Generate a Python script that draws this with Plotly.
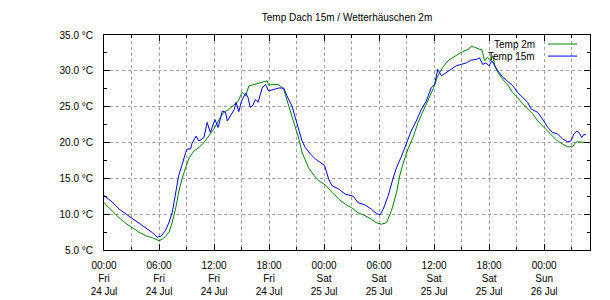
import pandas as pd
import plotly.graph_objects as go

# ---- data (hours since Fri 24 Jul 00:00) ----
start = "2015-07-24 00:00"

hours_15m = [0, 0.9, 1.65, 2.4, 3.1, 3.8, 4.55, 5.3, 5.8, 6.2, 6.7, 7.1, 7.45, 7.8, 8.15, 8.5, 8.9, 9.1, 9.45, 9.6,
             10.05, 10.35, 10.9, 11.25, 11.6, 12.1, 12.45, 12.9, 13.25, 13.45, 13.8, 14.2, 14.4, 14.7, 15.0, 15.45,
             15.7, 15.95, 16.2, 16.5, 16.8, 17.25, 17.6, 17.95, 18.5, 19.05, 19.6, 19.95, 20.5, 21.0, 21.6, 21.95,
             22.5, 23.05, 23.6, 24.05, 24.5, 24.85, 25.6, 26.3, 27.2, 27.7, 28.45, 29.15, 29.7, 30.1, 30.45, 31.0,
             31.5, 31.9, 32.45, 33.0, 33.5, 34.05, 34.6, 35.15, 35.7, 36.05, 36.4, 36.8, 37.35, 37.85, 38.4, 38.95,
             39.5, 40.05, 40.6, 40.95, 41.3, 41.65, 42.0, 42.3, 42.6, 42.95, 43.5, 44.0, 44.6, 45.1, 45.65, 46.2,
             46.55, 47.3, 47.8, 48.4, 48.9, 49.45, 50.0, 50.55, 50.9, 51.25, 51.55, 51.8, 52.1, 52.3, 52.55]
temp_15m = [12.6, 11.7, 10.7, 10.0, 9.4, 8.8, 8.0, 7.4, 6.8, 6.9, 7.7, 8.9, 10.3, 12.6, 15.4, 16.8, 18.6, 19.1, 19.1, 19.9,
            20.9, 20.2, 20.7, 22.8, 21.4, 23.2, 22.1, 24.4, 24.2, 23.0, 23.7, 24.6, 25.6, 24.3, 25.8, 26.9,
            26.3, 24.9, 25.1, 26.0, 25.6, 27.6, 28.1, 27.2, 27.4, 27.6, 27.6, 26.5, 25.1, 23.0, 20.2, 19.3,
            18.4, 17.7, 17.2, 16.8, 14.9, 14.0, 13.5, 12.8, 12.5, 11.6, 11.3, 10.7, 10.1, 9.9, 10.7, 12.6,
            14.9, 16.5, 18.1, 20.0, 21.6, 23.0, 24.6, 25.8, 27.7, 28.1, 30.2, 29.3, 29.8, 30.2, 30.7, 30.9,
            31.1, 31.5, 31.6, 31.8, 30.9, 31.1, 30.7, 31.4, 30.7, 30.0, 29.1, 28.6, 27.9, 27.0, 26.3, 25.6,
            24.7, 24.2, 23.3, 22.1, 21.4, 21.2, 20.5, 20.1, 20.2, 21.2, 21.6, 21.4, 20.7, 21.1, 21.1]

hours_2m = [0, 0.9, 1.65, 2.4, 3.1, 3.8, 4.55, 5.3, 6.0, 6.35, 6.7, 7.1, 7.45, 7.8, 8.15, 8.5, 8.9, 9.3, 9.8, 10.35,
            10.9, 11.45, 12.0, 12.55, 13.05, 13.6, 14.15, 14.65, 15.05, 15.45, 15.8, 16.5, 17.25, 17.8, 17.95, 18.3,
            19.05, 19.6, 19.95, 20.3, 20.85, 21.25, 21.6, 21.95, 22.3, 22.9, 23.4, 24.2, 24.85, 25.6, 26.3, 27.0,
            27.7, 28.45, 29.15, 29.7, 30.25, 30.8, 31.35, 31.9, 32.25, 32.6, 33.15, 33.7, 34.25, 34.8, 35.35, 35.9,
            36.4, 36.95, 37.5, 38.05, 38.6, 39.15, 39.7, 40.05, 40.4, 40.95, 41.2, 41.5, 41.85, 42.15, 42.4, 42.65,
            42.95, 43.5, 44.05, 44.55, 45.1, 45.65, 46.2, 46.75, 47.3, 47.85, 48.4, 48.9, 49.45, 50.0, 50.55, 51.1,
            51.35, 51.6, 52.2, 52.55]
temp_2m = [11.6, 10.4, 9.5, 8.7, 8.1, 7.5, 7.0, 6.7, 6.3, 6.5, 6.9, 7.5, 8.9, 10.7, 13.1, 14.9, 16.5, 17.9, 18.8, 19.3,
           20.0, 20.9, 21.9, 23.2, 24.2, 24.6, 25.3, 25.8, 27.0, 26.5, 27.9, 28.1, 28.4, 28.6, 28.0, 28.1,
           28.1, 27.4, 26.0, 24.6, 22.3, 20.5, 18.6, 17.5, 16.5, 15.4, 14.7, 14.0, 13.1, 12.1, 11.4, 10.9,
           10.2, 9.8, 9.3, 8.8, 8.6, 8.8, 10.5, 13.0, 15.4, 17.0, 19.1, 20.7, 22.8, 24.4, 26.1, 27.5,
           29.3, 30.5, 31.4, 31.9, 32.3, 32.7, 33.0, 33.4, 33.3, 33.0, 33.0, 31.4, 31.9, 31.4, 32.1, 30.5,
           29.8, 28.8, 28.0, 27.0, 26.3, 25.4, 24.7, 24.0, 23.0, 22.3, 21.6, 20.9, 20.2, 19.8, 19.4, 19.4,
           19.9, 20.1, 20.1, 20.0]

x_tick_hours = [0, 6, 12, 18, 24, 30, 36, 42, 48]
x_tick_labels = ["00:00<br>Fri<br>24 Jul", "06:00<br>Fri<br>24 Jul", "12:00<br>Fri<br>24 Jul",
                 "18:00<br>Fri<br>24 Jul", "00:00<br>Sat<br>25 Jul", "06:00<br>Sat<br>25 Jul",
                 "12:00<br>Sat<br>25 Jul", "18:00<br>Sat<br>25 Jul", "00:00<br>Sun<br>26 Jul"]
y_tick_values = [5, 10, 15, 20, 25, 30, 35]
y_tick_labels = ["5.0 °C", "10.0 °C", "15.0 °C", "20.0 °C", "25.0 °C", "30.0 °C", "35.0 °C"]
x_range_hours = [0, 53.0]

series_names = ["Temp 2m", "Temp 15m"]
series_colors = ["#008000", "#0000ff"]

t0 = pd.Timestamp(start)
to_time = lambda hs: [t0 + pd.Timedelta(hours=h) for h in hs]

FONT = "Liberation Sans, Arial, sans-serif"
GRID = "#a0a0a0"

fig = go.Figure()
fig.add_trace(go.Scatter(x=to_time(hours_2m), y=temp_2m, mode="lines", name=series_names[0],
                         line=dict(color=series_colors[0], width=1), showlegend=False))
fig.add_trace(go.Scatter(x=to_time(hours_15m), y=temp_15m, mode="lines", name=series_names[1],
                         line=dict(color=series_colors[1], width=1), showlegend=False))

# gnuplot-style key: right-aligned text followed by a line sample
key_rows = [0.958, 0.902]
for name, color, yy in zip(series_names, series_colors, key_rows):
    fig.add_annotation(x=0.891, y=yy, xref="paper", yref="paper", text=name, showarrow=False,
                       xanchor="right", yanchor="middle", font=dict(family=FONT, size=10, color="black"))
    fig.add_shape(type="line", xref="paper", yref="paper", x0=0.9136, x1=0.9733, y0=yy, y1=yy,
                  line=dict(color=color, width=1), layer="above")

fig.update_layout(
    width=610, height=300,
    margin=dict(l=104, r=20, t=35, b=50),
    paper_bgcolor="white", plot_bgcolor="white",
    font=dict(family=FONT, size=10, color="black"),
    title=dict(text="Temp Dach 15m / Wetterhäuschen 2m", x=(104 + 243) / 610, xanchor="center",
               y=1 - 17 / 300, yanchor="middle", font=dict(family=FONT, size=10, color="black")),
)

fig.update_xaxes(
    type="date", range=to_time(x_range_hours), automargin=False,
    tickmode="array", tickvals=to_time(x_tick_hours), ticktext=x_tick_labels,
    ticks="inside", ticklen=6, tickcolor="black", tickwidth=1,
    showline=True, linecolor="black", linewidth=1, mirror="allticks",
    showgrid=True, gridcolor=GRID, griddash="3px,3px", gridwidth=1,
    minor=dict(tickmode="linear", tick0=t0, dtick=3 * 3600 * 1000, ticks="inside", ticklen=3,
               tickcolor="black", showgrid=True, gridcolor=GRID, griddash="3px,3px", gridwidth=1),
    tickfont=dict(family=FONT, size=10), ticklabelstandoff=6,
    zeroline=False,
)
fig.update_yaxes(
    range=[5, 35], automargin=False, tickmode="array", tickvals=y_tick_values, ticktext=y_tick_labels,
    ticks="inside", ticklen=6, tickcolor="black", tickwidth=1,
    showline=True, linecolor="black", linewidth=1, mirror="allticks",
    showgrid=True, gridcolor=GRID, griddash="3px,3px", gridwidth=1,
    minor=dict(tickmode="linear", tick0=5, dtick=2.5, ticks="inside", ticklen=3, tickcolor="black",
               showgrid=False),
    tickfont=dict(family=FONT, size=10), ticklabelstandoff=8,
    zeroline=False,
)

fig.write_html("out.html")
